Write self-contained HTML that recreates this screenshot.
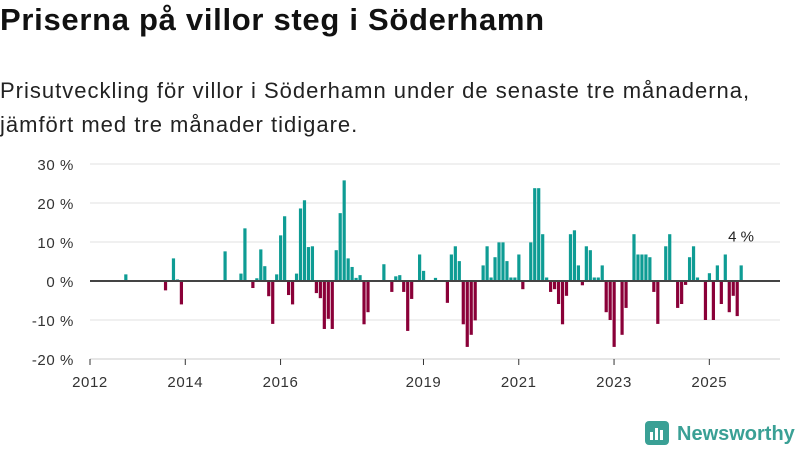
<!DOCTYPE html>
<html><head><meta charset="utf-8"><style>
body{margin:0;width:800px;height:450px;background:#fff;font-family:"Liberation Sans","DejaVu Sans",sans-serif;overflow:hidden;position:relative}
h1{position:absolute;left:0;top:2px;margin:0;font-size:31px;font-weight:bold;color:#111;letter-spacing:0.7px}
.sub{position:absolute;left:0;top:74px;font-size:22px;line-height:34px;color:#222;letter-spacing:1px}
svg{position:absolute;left:0;top:0}
</style></head><body>
<h1>Priserna på villor steg i Söderhamn</h1>
<div class="sub">Prisutveckling för villor i Söderhamn under de senaste tre månaderna,<br>jämfört med tre månader tidigare.</div>
<svg id="chart" width="800" height="450"></svg>
<script>
const months=[9,19,21,22,23,34,38,39,41,42,43,44,45,46,47,48,49,50,51,52,53,54,55,56,57,58,59,60,61,62,63,64,65,66,67,68,69,70,74,76,77,78,79,80,81,83,84,87,90,91,92,93,94,95,96,97,99,100,101,102,103,104,105,106,107,108,109,111,112,113,114,115,116,117,118,119,120,121,122,123,124,125,126,127,128,129,130,131,132,134,135,137,138,139,140,141,142,143,145,146,148,149,150,151,152,153,155,156,157,158,159,160,161,162,163,164];
const values=[1.7,-2.4,5.8,0.4,-6,7.6,1.9,13.5,-1.8,0.7,8.1,3.8,-3.9,-11,1.7,11.7,16.6,-3.6,-6,1.9,18.6,20.7,8.7,8.9,-3.1,-4.4,-12.3,-9.7,-12.3,7.9,17.4,25.8,5.8,3.6,0.8,1.5,-11.1,-8,4.3,-2.8,1.2,1.5,-2.8,-12.8,-4.6,6.8,2.6,0.8,-5.6,6.8,8.9,5.1,-11.1,-16.9,-13.8,-10.1,4,8.9,0.9,6.1,9.9,9.9,5.1,0.9,0.9,6.8,-2.1,9.9,23.8,23.8,12,0.9,-2.8,-2.1,-5.9,-11.1,-3.8,12,13,4,-1.1,8.9,7.9,0.9,0.9,4,-8,-10,-16.9,-13.8,-6.9,12,6.8,6.8,6.8,6.1,-2.8,-11,8.9,12,-6.9,-5.9,-1,6.1,8.9,0.9,-10,2,-10,4,-5.9,6.8,-8,-3.8,-9,4];
const yTicks=[30,20,10,0,-10,-20];
const xTickYears=[2012,2014,2016,2019,2021,2023,2025];
const NS='http://www.w3.org/2000/svg';
const svg=document.getElementById('chart');
const x=m=>90+m*3.97;
const y=v=>281-v*3.9;
function mk(t,a){const e=document.createElementNS(NS,t);for(const k in a)e.setAttribute(k,a[k]);svg.appendChild(e);return e;}
yTicks.forEach(v=>{
  const g=mk('line',{x1:90,x2:780,y1:y(v),y2:y(v),stroke:v==-20?'#ccc':'#e2e2e2','stroke-width':1});
  
  
  const t=mk('text',{x:74,y:y(v)+6,'text-anchor':'end','font-size':15,fill:'#333','letter-spacing':'0.6'});
  t.textContent=v+' %';
  
  
});
xTickYears.forEach(yr=>{
  const xx=x((yr-2012)*12);
  const tk=mk('line',{x1:xx,x2:xx,y1:359,y2:365,stroke:'#333','stroke-width':1});
  
  
  const t=mk('text',{x:xx,y:387,'text-anchor':'middle','font-size':15,fill:'#333','letter-spacing':'0.6'});
  t.textContent=yr;
  
  
});
months.forEach((m,i)=>{
  const v=values[i];
  const r=mk('rect',{x:x(m)-1.5,width:3.2,y:v>=0?y(v):y(0),height:Math.abs(y(v)-y(0)),fill:v>=0?'#0e9c94':'#8a0038'});
  
  
});
const z=mk('line',{x1:90,x2:780,y1:281,y2:281,stroke:'#444','stroke-width':2});


const lastI=values.length-1;
const lab=mk('text',{x:x(months[lastI]),y:y(values[lastI])-24,'text-anchor':'middle','font-size':15,fill:'#222'});
lab.textContent=values[lastI]+' %';


</script>
<svg width="800" height="450" style="pointer-events:none">
<rect x="645" y="421" width="24" height="24" rx="4" fill="#3aa095"/>
<rect x="650" y="432" width="3" height="8" fill="#fff"/><rect x="655" y="428" width="3" height="12" fill="#fff"/><rect x="660" y="430" width="3" height="10" fill="#fff"/>
<text x="677" y="440" font-size="20" font-weight="bold" fill="#3aa095" font-family="Liberation Sans, sans-serif">Newsworthy</text>
</svg>
</body></html>
